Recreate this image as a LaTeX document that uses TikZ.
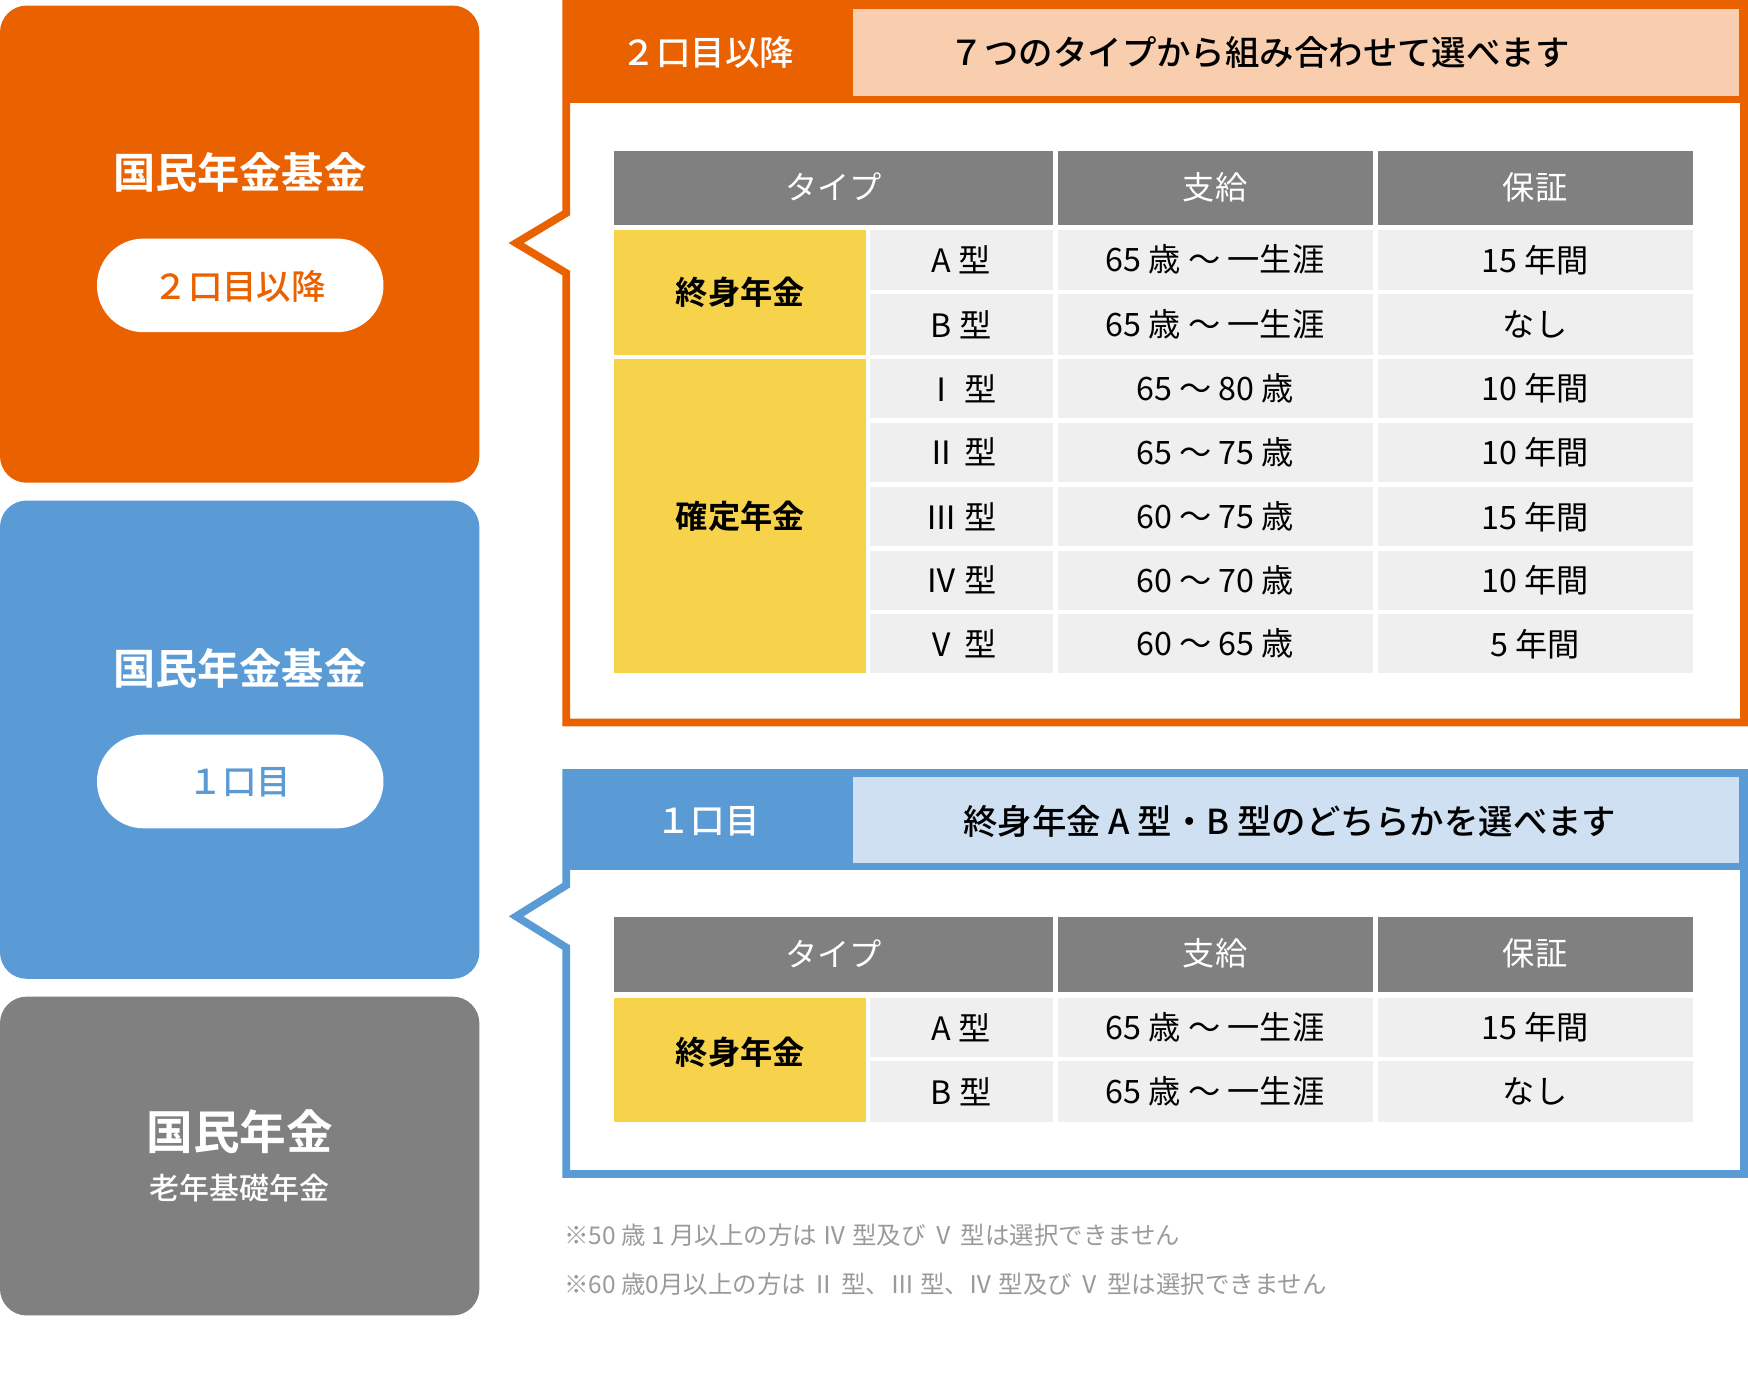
\documentclass[tikz,border=0pt]{standalone}
\usepackage{fontspec}
\setmainfont{Noto Sans CJK JP}
\newfontfamily\jpb{Noto Sans CJK JP}[BoldFont={* Bold},UprightFont={* Medium}]
\definecolor{og}{HTML}{EA6100}
\definecolor{ogl}{HTML}{F9CEAF}
\definecolor{bl}{HTML}{5B9BD5}
\definecolor{bll}{HTML}{CFE0F2}
\definecolor{gr}{HTML}{808080}
\definecolor{cell}{HTML}{EFEFEF}
\definecolor{yl}{HTML}{F7D24B}
\definecolor{nt}{HTML}{9A9A9A}
\begin{document}
\begin{tikzpicture}[x=1bp,y=-1bp,
 t/.style={font=\fontsize{29}{30}\selectfont,text=black,inner sep=0},
 th/.style={font=\fontsize{29}{30}\selectfont,text=white,inner sep=0},
 big/.style={font=\jpb\bfseries\fontsize{38}{40}\selectfont,text=white,inner sep=0},
 hd/.style={font=\jpb\fontsize{31}{32}\selectfont,inner sep=0}]
\useasboundingbox (0,0) rectangle (1568,1232);
% left boxes
\fill[og,rounded corners=24] (0,5) rectangle (430,433);
\fill[bl,rounded corners=24] (0,449) rectangle (430,878);
\fill[gr,rounded corners=24] (0,894) rectangle (430,1180);
\node[big] (o1) at (215,155) {国民年金基金};
\fill[white,rounded corners=42] (87,214) rectangle (344,298);
\node[hd,text=og] (o2) at (215,257) {２口目以降};
\node[big] (b1) at (215,600) {国民年金基金};
\fill[white,rounded corners=42] (87,659) rectangle (344,743);
\node[hd,text=bl] (b2) at (215,702) {１口目};
\node[big,font=\jpb\bfseries\fontsize{42}{44}\selectfont] (g1) at (215,1015) {国民年金};
\node[inner sep=0,text=white,font=\jpb\fontsize{27}{28}\selectfont] (g2) at (215,1066) {老年基礎年金};
% orange panel
\draw[og,line width=7,fill=white] (508,3.5) -- (1564.5,3.5) -- (1564.5,648) -- (508,648) -- (508,245) -- (463,218) -- (508,191) -- cycle;
\fill[og] (505,0) rectangle (1568,92);
\fill[ogl] (765,8) rectangle (1560,86);
\node[hd,text=white] (oh1) at (635,47) {２口目以降};
\node[hd,text=black] (oh2) at (1130,47) {７つのタイプから組み合わせて選べます};
% blue panel
\draw[bl,line width=7,fill=white] (508,693.5) -- (1564.5,693.5) -- (1564.5,1053) -- (508,1053) -- (508,850) -- (463,822) -- (508,794) -- cycle;
\fill[bl] (505,690) rectangle (1568,780);
\fill[bll] (765,697) rectangle (1560,774);
\node[hd,text=white] (bh1) at (635,737) {１口目};
\node[hd,text=black] (bh2) at (1157,737) {終身年金 A 型・B 型のどちらかを選べます};
% tables
\foreach \yo in {0,690}{
 \begin{scope}[yshift=-\yo]
 \fill[gr] (551,135) rectangle (945,202);
 \fill[gr] (949,135) rectangle (1232,202);
 \fill[gr] (1236,135) rectangle (1519,202);
 \node[th] at (748,168) {タイプ};
 \node[th] at (1090,168) {支給};
 \node[th] at (1377,168) {保証};
 \end{scope}}
\def\row#1#2#3#4#5{\fill[cell] (780,#1) rectangle (945,#2);\fill[cell] (949,#1) rectangle (1232,#2);\fill[cell] (1236,#1) rectangle (1519,#2);
 \node[t] at (862,{(#1+#2)/2}) {#3};\node[t] at (1090,{(#1+#2)/2}) {#4};\node[t] at (1377,{(#1+#2)/2}) {#5};}
\row{206}{260}{A 型}{65 歳 ～ 一生涯}{15 年間}
\row{264}{318}{B 型}{65 歳 ～ 一生涯}{なし}
\row{322}{375}{Ⅰ 型}{65 ～ 80 歳}{10 年間}
\row{379}{432}{Ⅱ 型}{65 ～ 75 歳}{10 年間}
\row{437}{490}{Ⅲ 型}{60 ～ 75 歳}{15 年間}
\row{494}{547}{Ⅳ 型}{60 ～ 70 歳}{10 年間}
\row{551}{604}{Ⅴ 型}{60 ～ 65 歳}{5 年間}
\row{895}{948}{A 型}{65 歳 ～ 一生涯}{15 年間}
\row{952}{1006}{B 型}{65 歳 ～ 一生涯}{なし}
\fill[yl] (551,206) rectangle (777,318);
\fill[yl] (551,322) rectangle (777,604);
\fill[yl] (551,895) rectangle (777,1006);
\node[t,font=\jpb\bfseries\fontsize{29}{30}\selectfont] at (664,262) {終身年金};
\node[t,font=\jpb\bfseries\fontsize{29}{30}\selectfont] at (664,463) {確定年金};
\node[t,font=\jpb\bfseries\fontsize{29}{30}\selectfont] at (664,944) {終身年金};
% notes
\node[anchor=west,inner sep=0,text=nt,font=\fontsize{22}{24}\selectfont] (n1) at (506,1108) {※50 歳 1 月以上の方は Ⅳ 型及び Ⅴ 型は選択できません};
\node[anchor=west,inner sep=0,text=nt,font=\fontsize{22}{24}\selectfont] (n2) at (506,1152) {※60 歳0月以上の方は Ⅱ 型、Ⅲ 型、Ⅳ 型及び Ⅴ 型は選択できません};
\end{tikzpicture}
\end{document}
